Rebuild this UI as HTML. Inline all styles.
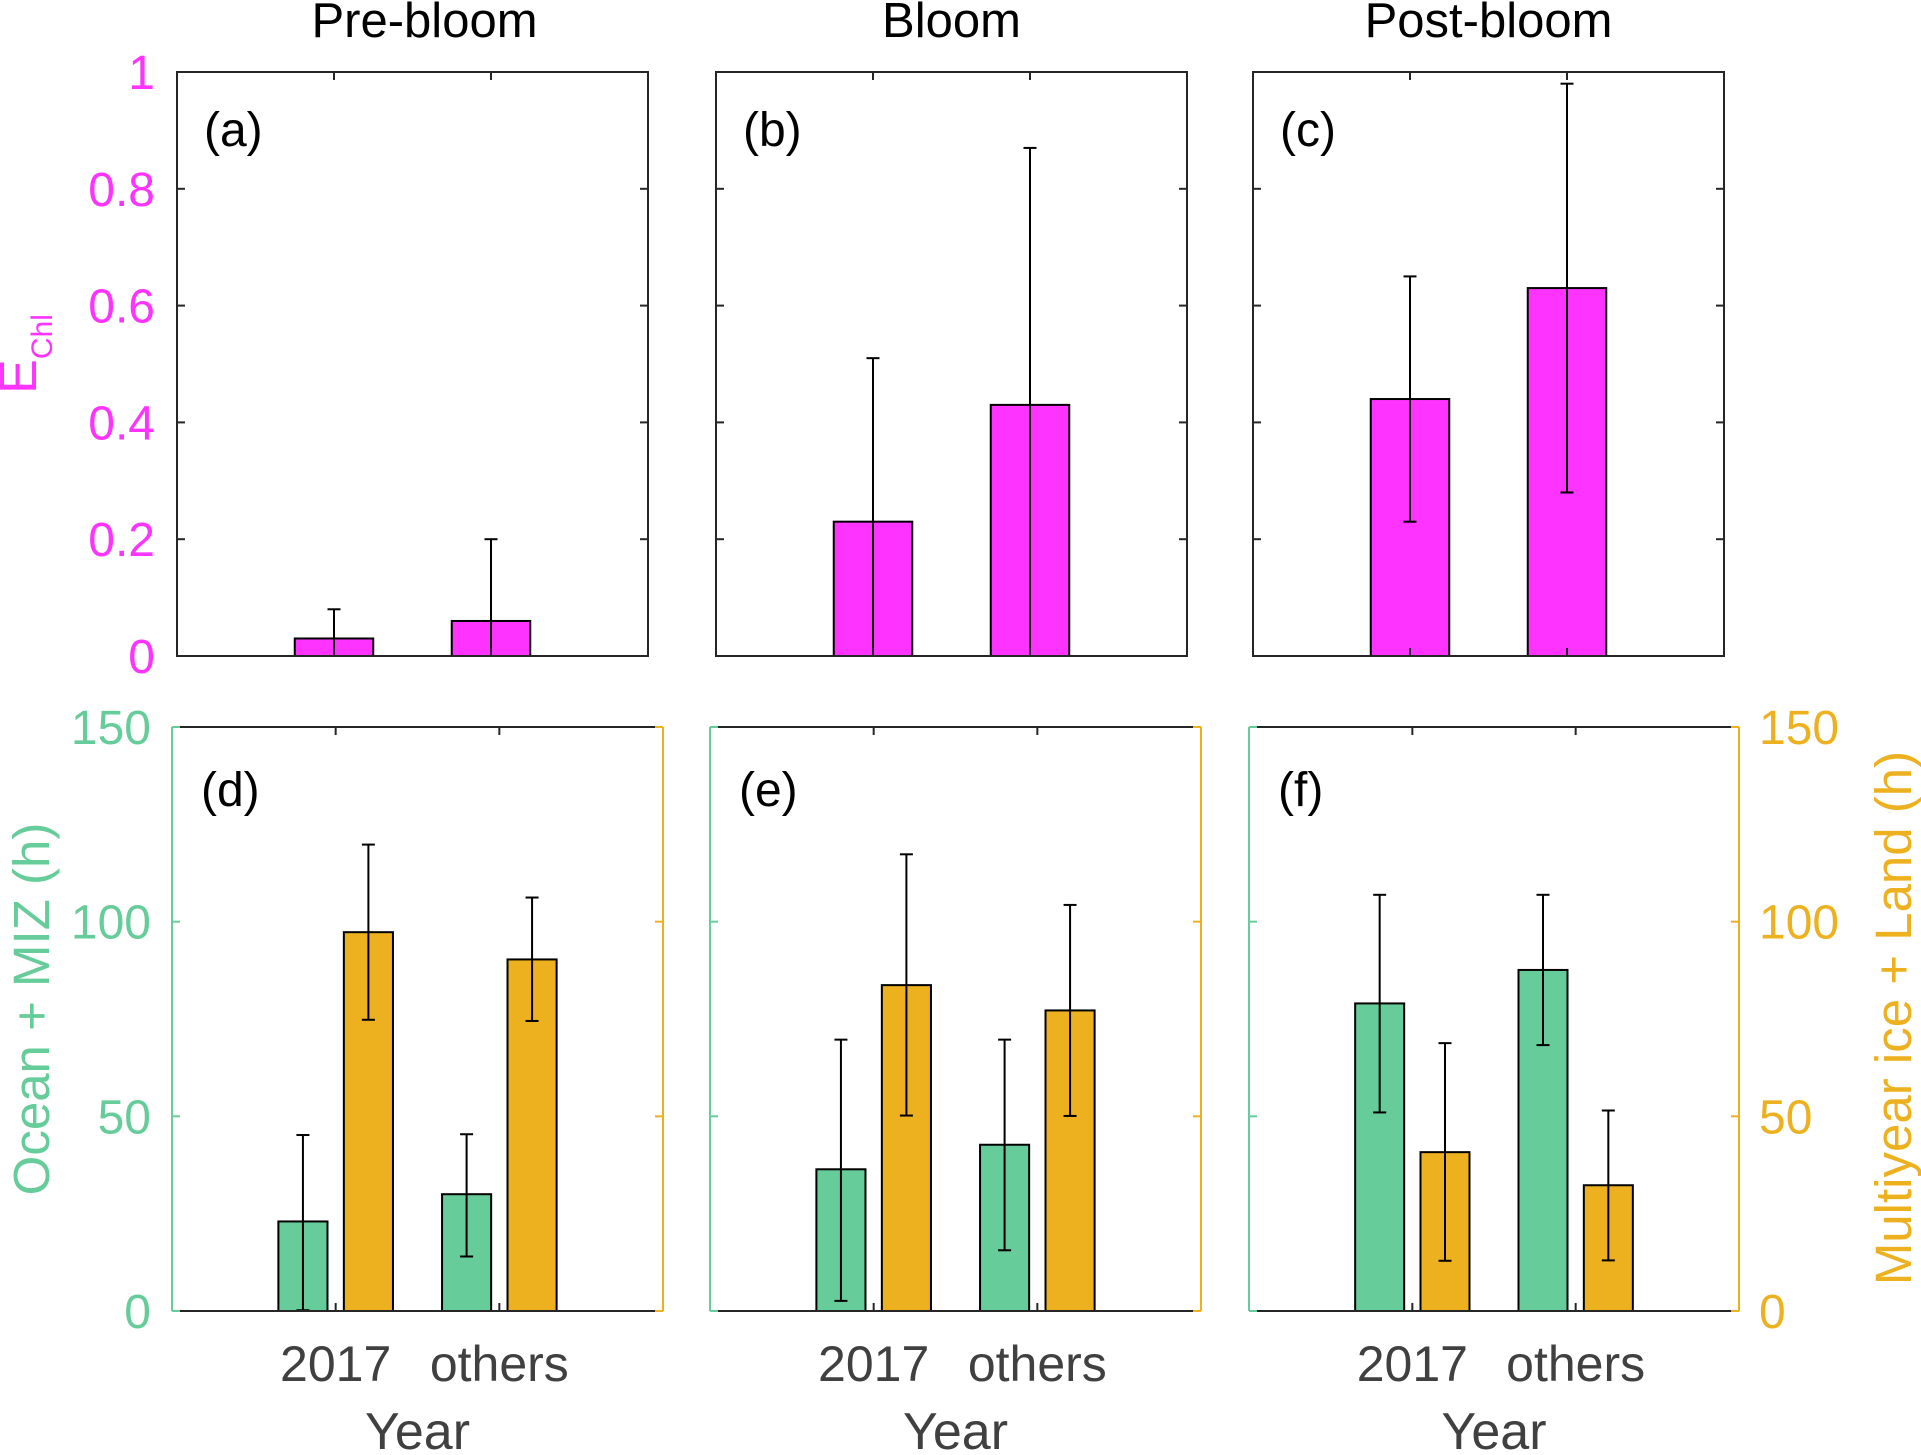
<!DOCTYPE html>
<html><head><meta charset="utf-8"><style>
html,body{margin:0;padding:0;background:#fff;}
svg{display:block;font-family:"Liberation Sans",Arial,sans-serif;}
</style></head><body>
<svg id="fig" width="1921" height="1455" viewBox="0 0 1921 1455" xmlns="http://www.w3.org/2000/svg"></svg>
<script>
// ---- data ----
const categories = ["2017", "others"];
const panelTitles = ["Pre-bloom", "Bloom", "Post-bloom"];
const topLabels = ["(a)", "(b)", "(c)"];
const bottomLabels = ["(d)", "(e)", "(f)"];
const echlValues = [[0.03, 0.06], [0.23, 0.43], [0.44, 0.63]];
const echlErrLow = [[-0.02, -0.08], [-0.05, -0.01], [0.23, 0.28]];
const echlErrHigh = [[0.08, 0.20], [0.51, 0.87], [0.65, 0.98]];
const oceanValues = [[23, 30], [36.4, 42.7], [79, 87.6]];
const oceanErrLow = [[0.2, 14], [2.6, 15.6], [51, 68.3]];
const oceanErrHigh = [[45.2, 45.4], [69.7, 69.7], [106.9, 106.9]];
const iceValues = [[97.3, 90.3], [83.7, 77.2], [40.8, 32.3]];
const iceErrLow = [[74.8, 74.5], [50.2, 50.1], [12.9, 13]];
const iceErrHigh = [[119.8, 106.2], [117.3, 104.3], [68.8, 51.5]];
const echlTicks = [0, 0.2, 0.4, 0.6, 0.8, 1];
const echlTickLabels = ["0", "0.2", "0.4", "0.6", "0.8", "1"];
const hourTicks = [0, 50, 100, 150];
const hourTickLabels = ["0", "50", "100", "150"];

// ---- layout ----
const MAG = "#FF33FF", GRN = "#66CC99", ORG = "#EDB120", AX = "#262626", TXT = "#404040";
const topPanels = [{l:177,r:648},{l:716,r:1187},{l:1253,r:1724}];
const titleShift = [12, 0, 0];
const topY = {t:72, b:656};
const botPanels = [{l:172,r:663},{l:710,r:1201},{l:1249,r:1739}];
const botY = {t:727, b:1311};
const svg = document.getElementById('fig');
const NS = "http://www.w3.org/2000/svg";
function mk(tag, attrs, parent){ const e=document.createElementNS(NS,tag); for(const k in attrs) e.setAttribute(k,attrs[k]); (parent||svg).appendChild(e); return e; }
function txt(s, attrs, parent){ const e=mk('text',attrs,parent); e.textContent=s; return e; }
function xScale(p, x){ return p.l + (p.r-p.l)*x/3; }
function yScale(Y, v, max){ return Y.b - (Y.b-Y.t)*Math.max(0,Math.min(max,v))/max; }
function errBar(g, x, lo, hi, Y, max){
  const y1=yScale(Y,lo,max), y2=yScale(Y,hi,max);
  const ln=mk('line',{x1:x,x2:x,y1:y1,y2:y2,stroke:'#000','stroke-width':2},g);
  
  
  mk('line',{x1:x-6.5,x2:x+6.5,y1:y2,y2:y2,stroke:'#000','stroke-width':2},g);
  if(lo>=0) mk('line',{x1:x-6.5,x2:x+6.5,y1:y1,y2:y1,stroke:'#000','stroke-width':2},g);
}

// ---- top row ----
topPanels.forEach((p,i)=>{
  const g=mk('g',{});
  
  
  const t=txt(panelTitles[i],{x:(p.l+p.r)/2+titleShift[i],y:37,'font-size':49,'text-anchor':'middle',fill:'#000'},g);
  
  
  categories.forEach((c,j)=>{
    const cx=xScale(p,j+1), w=(p.r-p.l)/3*0.5;
    const y=yScale(topY,echlValues[i][j],1);
    const b=mk('rect',{x:cx-w/2,y:y,width:w,height:topY.b-y,fill:MAG,stroke:'#000','stroke-width':2},g);
    
    
  });
  categories.forEach((c,j)=>errBar(g,xScale(p,j+1),echlErrLow[i][j],echlErrHigh[i][j],topY,1));
  mk('rect',{x:p.l,y:topY.t,width:p.r-p.l,height:topY.b-topY.t,fill:'none',stroke:AX,'stroke-width':2},g);
  echlTicks.forEach(v=>{const y=yScale(topY,v,1);
    mk('line',{x1:p.l,x2:p.l+8,y1:y,y2:y,stroke:AX,'stroke-width':2},g);
    mk('line',{x1:p.r,x2:p.r-8,y1:y,y2:y,stroke:AX,'stroke-width':2},g);});
  [1,2].forEach(k=>{const x=xScale(p,k);
    mk('line',{x1:x,x2:x,y1:topY.t,y2:topY.t+8,stroke:AX,'stroke-width':2},g);
    mk('line',{x1:x,x2:x,y1:topY.b,y2:topY.b-8,stroke:AX,'stroke-width':2},g);});
  const pl=txt(topLabels[i],{x:p.l+27,y:146,'font-size':48,fill:'#000'},g);
  
  
});
echlTicks.forEach((v,k)=>{
  const e=txt(echlTickLabels[k],{x:155,y:yScale(topY,v,1)+17,'font-size':48,'text-anchor':'end',fill:MAG});
  
  
});
const yl=mk('text',{transform:'translate(36,354) rotate(-90)','font-size':52,'text-anchor':'middle',fill:MAG});


yl.innerHTML='E<tspan font-size="30" dy="16">Chl</tspan>';

// ---- bottom row ----
botPanels.forEach((p,i)=>{
  const g=mk('g',{});
  
  
  const unit=(p.r-p.l)/3, w=unit*0.3;
  categories.forEach((c,j)=>{
    const cx=xScale(p,j+1);
    const yg=yScale(botY,oceanValues[i][j],150);
    const bg=mk('rect',{x:cx-0.2*unit-w/2,y:yg,width:w,height:botY.b-yg,fill:GRN,stroke:'#000','stroke-width':2},g);
    
    
    const yo=yScale(botY,iceValues[i][j],150);
    const bo=mk('rect',{x:cx+0.2*unit-w/2,y:yo,width:w,height:botY.b-yo,fill:ORG,stroke:'#000','stroke-width':2},g);
    
    
  });
  categories.forEach((c,j)=>{
    const cx=xScale(p,j+1);
    errBar(g,cx-0.2*unit,oceanErrLow[i][j],oceanErrHigh[i][j],botY,150);
    errBar(g,cx+0.2*unit,iceErrLow[i][j],iceErrHigh[i][j],botY,150);
  });
  mk('line',{x1:p.l,x2:p.r,y1:botY.t,y2:botY.t,stroke:AX,'stroke-width':2},g);
  mk('line',{x1:p.l,x2:p.r,y1:botY.b,y2:botY.b,stroke:AX,'stroke-width':2},g);
  mk('line',{x1:p.l,x2:p.l,y1:botY.t,y2:botY.b,stroke:GRN,'stroke-width':2},g);
  mk('line',{x1:p.r,x2:p.r,y1:botY.t,y2:botY.b,stroke:ORG,'stroke-width':2},g);
  hourTicks.forEach(v=>{const y=yScale(botY,v,150);
    mk('line',{x1:p.l,x2:p.l+8,y1:y,y2:y,stroke:GRN,'stroke-width':2},g);
    mk('line',{x1:p.r,x2:p.r-8,y1:y,y2:y,stroke:ORG,'stroke-width':2},g);});
  [1,2].forEach(k=>{const x=xScale(p,k);
    mk('line',{x1:x,x2:x,y1:botY.t,y2:botY.t+8,stroke:AX,'stroke-width':2},g);
    mk('line',{x1:x,x2:x,y1:botY.b,y2:botY.b-8,stroke:AX,'stroke-width':2},g);});
  categories.forEach((c,j)=>{
    const e=txt(c,{x:xScale(p,j+1),y:1381,'font-size':50,'text-anchor':'middle',fill:TXT},g);
    
    
  });
  const xl=txt('Year',{x:(p.l+p.r)/2,y:1449,'font-size':52,'text-anchor':'middle',fill:TXT},g);
  
  
  const pl=txt(bottomLabels[i],{x:p.l+29,y:806,'font-size':48,fill:'#000'},g);
  
  
});
hourTicks.forEach((v,k)=>{
  const y=yScale(botY,v,150)+17;
  const a=txt(hourTickLabels[k],{x:151,y:y,'font-size':48,'text-anchor':'end',fill:GRN});
  
  
  const b=txt(hourTickLabels[k],{x:1759,y:y,'font-size':48,'text-anchor':'start',fill:ORG});
  
  
});
const ol=txt('Ocean + MIZ (h)',{transform:'translate(49,1009) rotate(-90)','font-size':51,'text-anchor':'middle',fill:GRN});


const il=txt('Multiyear ice + Land (h)',{transform:'translate(1911,1018) rotate(-90)','font-size':51,'text-anchor':'middle',fill:ORG});


</script>
</body></html>
